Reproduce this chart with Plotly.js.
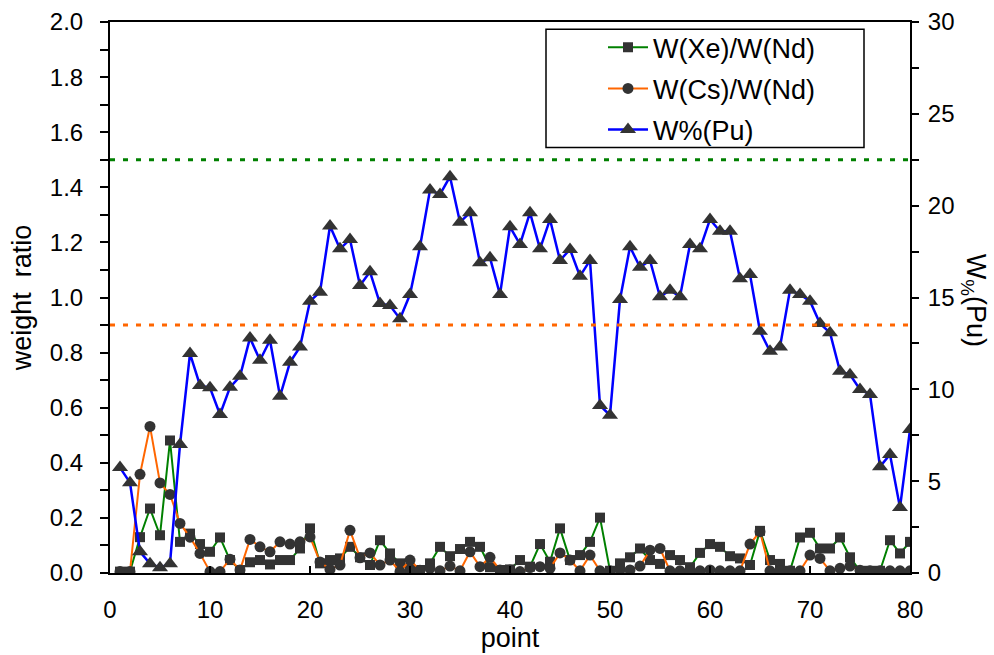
<!DOCTYPE html>
<html>
<head>
<meta charset="utf-8">
<script src="https://cdn.plot.ly/plotly-3.0.1.min.js"></script>
<style>html,body{margin:0;padding:0;background:#fff;}#chart{width:994px;height:655px;}</style>
</head>
<body>
<div id="chart"></div>
<script>
const points = Array.from({length: 80}, (_, i) => i + 1);
const xeNd = [0.005,0.005,0.13,0.234,0.137,0.481,0.113,0.143,0.105,0.077,0.129,0.047,0.011,0.039,0.047,0.031,0.047,0.047,0.089,0.162,
  0.035,0.047,0.053,0.095,0.057,0.029,0.119,0.071,0.035,0.017,0.011,0.035,0.095,0.061,0.087,0.113,0.095,0.021,0.011,0.013,
  0.047,0.023,0.105,0.041,0.162,0.047,0.065,0.113,0.201,0.008,0.035,0.057,0.089,0.047,0.033,0.065,0.047,0.021,0.073,0.105,
  0.095,0.061,0.053,0.029,0.153,0.047,0.033,0.008,0.129,0.146,0.089,0.089,0.129,0.057,0.008,0.008,0.008,0.119,0.071,0.113];
const csNd = [0.005,0.005,0.358,0.532,0.327,0.285,0.18,0.13,0.071,0.005,0.005,0.05,0.011,0.122,0.095,0.077,0.113,0.105,0.113,0.131,
  0.04,0.013,0.029,0.155,0.055,0.073,0.029,0.047,0.005,0.047,0.01,0.017,0.008,0.025,0.008,0.077,0.023,0.057,0.011,0.011,
  0.005,0.02,0.023,0.017,0.073,0.047,0.008,0.065,0.008,0.008,0.011,0.011,0.025,0.083,0.089,0.008,0.008,0.008,0.008,0.011,
  0.008,0.008,0.008,0.105,0.15,0.008,0.008,0.008,0.008,0.065,0.053,0.008,0.017,0.025,0.01,0.008,0.008,0.008,0.008,0.008];
const puPct = [5.74,4.92,1.16,0.51,0.29,0.51,6.99,11.95,10.21,10.08,8.63,10.11,10.71,12.80,11.58,12.67,9.62,11.47,12.31,14.80,
  15.29,18.89,17.65,18.16,15.65,16.40,14.67,14.56,13.84,15.16,17.76,20.85,20.61,21.58,19.10,19.62,16.89,17.16,15.16,18.85,
  17.89,19.62,17.65,19.25,17.02,17.62,16.16,17.02,9.12,8.59,14.89,17.76,16.65,17.02,15.04,15.40,15.04,17.89,17.65,19.25,
  18.61,18.61,16.02,16.25,13.16,12.07,12.31,15.40,15.16,14.80,13.58,13.08,10.98,10.80,9.99,9.72,5.79,6.45,3.56,7.81];
const xeLimit = [1.5];
const csLimit = [0.9];
const seriesNames = ["W(Xe)/W(Nd)", "W(Cs)/W(Nd)", "W%(Pu)"];

const FONT = "Liberation Sans, Arial, sans-serif";
const MK = "#333333";

const traces = [
  {x: points, y: xeNd, name: seriesNames[0], mode: "lines+markers", legendgroup: "a",
   line: {color: "#008000", width: 2}, marker: {symbol: "square", size: 10, color: MK}},
  {x: points, y: csNd, name: seriesNames[1], mode: "lines+markers", legendgroup: "b",
   line: {color: "#FF6600", width: 2}, marker: {symbol: "circle", size: 11, color: MK}},
  {x: points, y: puPct, name: seriesNames[2], mode: "lines+markers", yaxis: "y2", legendgroup: "c",
   line: {color: "#0000FF", width: 2.5}, marker: {symbol: "triangle-up", size: 14, color: MK}}
];

const layout = {
  width: 994, height: 655,
  margin: {l: 110, r: 84, t: 22, b: 82},
  paper_bgcolor: "#fff", plot_bgcolor: "#fff",
  font: {family: FONT, size: 24, color: "#000"},
  showlegend: true,
  legend: {x: (603 - 110) / 800, y: (573.3 - 24) / 550.6, xanchor: "left", yanchor: "top",
    borderwidth: 0, bgcolor: "rgba(0,0,0,0)",
    font: {family: FONT, size: 27}, tracegroupgap: 3, itemwidth: 40},
  xaxis: {range: [0, 80], dtick: 10, tick0: 0, showgrid: false, zeroline: false,
    showline: true, linecolor: "#000", linewidth: 2, mirror: true,
    ticks: "inside", ticklen: 7, tickwidth: 2, tickcolor: "#000",
    ticklabelstandoff: 14,
    tickfont: {family: FONT, size: 24},
    title: {text: "point", font: {family: FONT, size: 27}, standoff: 0}},
  yaxis: {range: [0, 2], dtick: 0.2, tick0: 0, tickformat: ".1f", showgrid: false, zeroline: false,
    showline: true, linecolor: "#000", linewidth: 2,
    ticks: "outside", ticklen: 8, tickwidth: 2, tickcolor: "#000",
    minor: {dtick: 0.1, ticks: "outside", ticklen: 8, tickwidth: 2, tickcolor: "#000"},
    ticklabelstandoff: 12,
    tickfont: {family: FONT, size: 24},
    title: {text: "weight&nbsp; ratio", font: {family: FONT, size: 27}, standoff: 10}},
  yaxis2: {range: [0, 30], dtick: 5, tick0: 0, overlaying: "y", side: "right",
    showgrid: false, zeroline: false, showline: true, linecolor: "#000", linewidth: 2,
    ticks: "outside", ticklen: 7, tickwidth: 2, tickcolor: "#000",
    minor: {dtick: 2.5, ticks: "outside", ticklen: 7, tickwidth: 2, tickcolor: "#000"},
    ticklabelstandoff: 4,
    tickfont: {family: FONT, size: 24}},
  shapes: [
    {type: "line", xref: "paper", x0: 0, x1: 1, yref: "y", y0: xeLimit[0], y1: xeLimit[0],
     line: {color: "#008000", width: 3, dash: "5px,8px"}},
    {type: "line", xref: "paper", x0: 0, x1: 1, yref: "y", y0: csLimit[0], y1: csLimit[0],
     line: {color: "#FF6600", width: 3, dash: "5px,8px"}},
    {type: "rect", xref: "paper", yref: "paper", layer: "above",
     x0: (546 - 110) / 800, x1: (864 - 110) / 800, y0: (573.3 - 148) / 550.6, y1: (573.3 - 30) / 550.6,
     fillcolor: "#fff", line: {color: "#000", width: 1.5}}
  ],
  annotations: [
    {text: "W<sub>%</sub>(Pu)", xref: "paper", yref: "paper", x: 1.08, y: 0.496,
     textangle: 90, showarrow: false, font: {family: FONT, size: 27}, xanchor: "center", yanchor: "middle"}
  ]
};

Plotly.newPlot("chart", traces, layout, {displayModeBar: false, staticPlot: true});
</script>
</body>
</html>
